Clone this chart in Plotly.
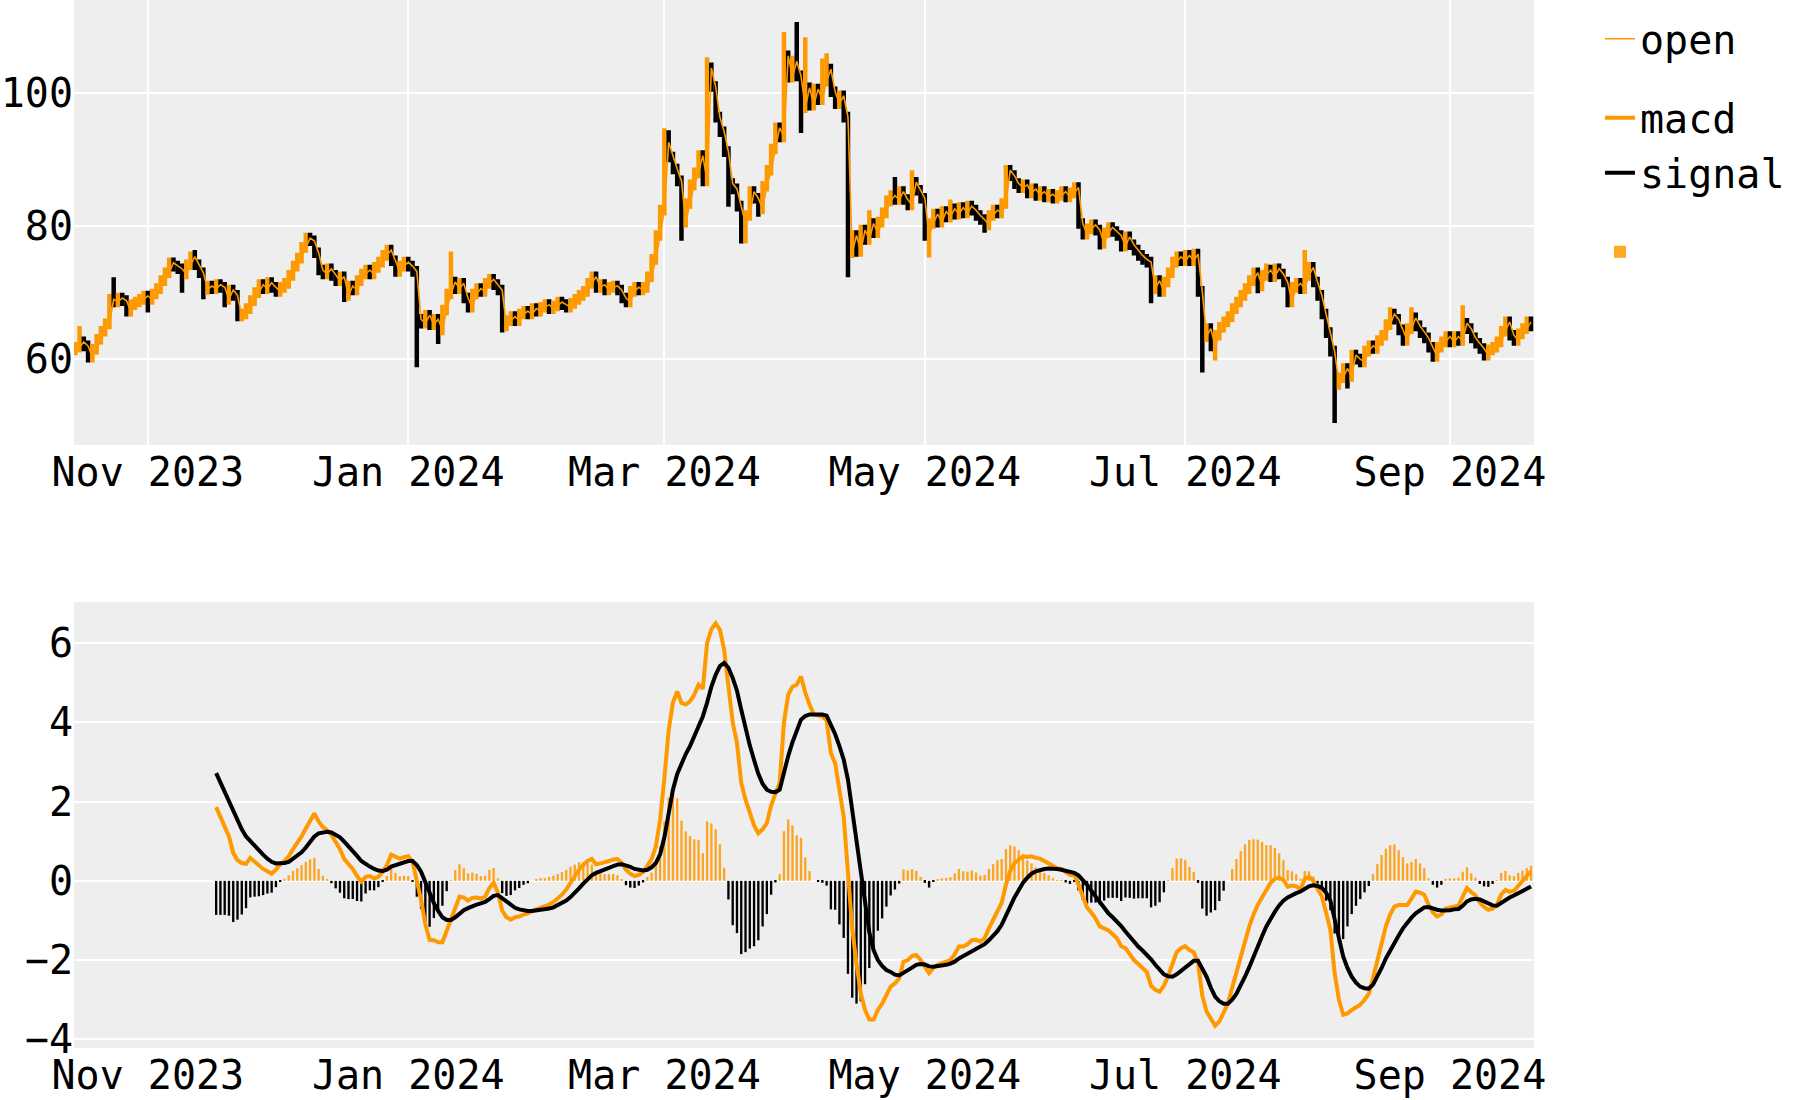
import pandas as pd
import plotly.graph_objects as go

ORANGE = "#ff9900"

# ---------------- price data (daily, 2023-10-15 .. 2024-09-20) ----------------
close_oct = [61.8, 62.6, 62.0, 60.3, 61.5, 63.0, 64.2, 65.3, 69.0, 68.6, 69.2, 68.8, 67.2, 68.2, 68.6, 69.0, 69.5]
close_nov = [69.0, 69.8, 70.6, 71.8, 73.0, 74.5, 74.0, 73.6, 72.8, 74.2, 75.4, 74.2, 73.0, 70.5, 71.0, 70.6, 71.2, 70.8,
             69.0, 70.4, 69.6, 66.5, 66.8, 67.6, 68.8, 70.0, 71.2, 70.6, 71.5, 70.8]
close_dec = [70.2, 70.8, 71.4, 72.6, 74.0, 75.2, 76.8, 78.2, 77.8, 76.0, 73.4, 72.8, 73.6, 72.6, 71.8, 72.4, 69.6, 71.0,
             70.4, 71.8, 72.8, 73.4, 72.8, 73.8, 74.6, 75.6, 76.4, 74.8, 73.2, 74.0, 74.6]
close_jan = [74.0, 73.2, 66.0, 65.4, 66.6, 65.2, 66.0, 64.4, 67.4, 69.8, 71.6, 70.6, 71.4, 69.2, 67.8, 69.8, 70.6, 70.2,
             71.4, 72.0, 71.2, 70.4, 65.0, 65.8, 66.4, 65.8, 66.8, 67.2, 66.8, 67.6, 67.2]
close_feb = [67.8, 68.2, 67.6, 68.0, 68.6, 68.2, 67.8, 68.4, 69.0, 69.6, 70.2, 71.4, 72.4, 70.8, 71.2, 70.4, 70.8, 71.0,
             70.4, 69.2, 68.6, 70.2, 70.8, 70.4, 70.8, 72.4, 75.0, 78.6, 82.4]
close_mar = [92.6, 90.4, 88.6, 86.8, 80.6, 83.4, 86.2, 88.0, 90.6, 86.8, 103.8, 101.0, 96.4, 94.2, 91.2, 86.4, 85.6, 83.0,
             80.4, 81.6, 85.2, 84.2, 82.6, 86.0, 88.4, 91.6, 94.8, 93.4, 105.6, 102.4, 104.8]
close_apr = [102.6, 97.8, 100.8, 98.2, 100.6, 99.0, 101.8, 103.6, 100.2, 98.4, 99.6, 96.4, 76.0, 78.6, 76.2, 79.4, 78.0,
             80.4, 79.0, 80.6, 82.0, 83.8, 84.6, 84.0, 85.2, 84.0, 83.2, 86.6, 85.4, 84.2]
close_may = [78.6, 80.4, 81.8, 80.6, 82.2, 81.4, 82.6, 81.8, 82.8, 82.0, 83.0, 82.4, 81.6, 81.0, 80.2, 81.6, 82.4, 82.0,
             83.4, 88.4, 87.6, 86.4, 85.8, 86.2, 85.0, 85.6, 84.6, 85.2, 84.4, 84.8, 84.2]
close_jun = [84.6, 85.2, 84.4, 85.0, 85.8, 80.4, 78.8, 79.6, 80.2, 79.4, 77.4, 79.0, 79.8, 79.2, 78.6, 77.0, 78.4, 77.2,
             76.4, 75.6, 75.0, 74.6, 70.6, 71.8, 70.2, 71.6, 73.0, 74.6, 75.4, 74.8]
close_jul = [75.6, 74.8, 75.8, 70.2, 63.4, 64.6, 62.0, 63.6, 64.8, 65.6, 66.4, 67.6, 68.6, 69.6, 70.6, 71.8, 73.0, 71.0,
             72.6, 73.4, 72.4, 73.6, 72.8, 71.6, 68.6, 70.8, 71.4, 70.6, 72.6, 73.8, 71.6]
close_aug = [69.6, 66.8, 64.0, 61.2, 56.4, 57.2, 58.6, 57.4, 60.6, 60.0, 59.6, 61.2, 62.0, 61.6, 62.8, 63.6, 65.2, 66.8,
             66.0, 64.4, 62.8, 64.6, 66.2, 65.0, 64.0, 63.2, 61.8, 60.4, 61.8, 62.6, 63.4]
close_sep = [62.6, 63.4, 62.8, 65.4, 64.6, 63.2, 62.4, 61.6, 60.6, 61.4, 61.8, 62.6, 64.2, 65.6, 63.6, 62.8, 63.8, 64.6,
             65.6, 65.0]

close = (close_oct + close_nov + close_dec + close_jan + close_feb + close_mar + close_apr + close_may
         + close_jun + close_jul + close_aug + close_sep)
first_open = 61.4
open_ = [first_open] + close[:-1]

# typical daily wick beyond the open/close body
typical_wick = 0.8
wick_high = {
    "2023-10-16": 65.0, "2023-10-24": 72.3, "2023-11-12": 76.4, "2023-12-09": 78.8, "2023-12-27": 77.2,
    "2024-01-11": 76.2, "2024-02-13": 72.8, "2024-03-01": 94.7, "2024-03-02": 94.4, "2024-03-11": 105.4,
    "2024-03-12": 104.2, "2024-03-29": 109.2, "2024-04-01": 110.7, "2024-04-03": 108.4, "2024-04-07": 105.2,
    "2024-04-08": 106.0, "2024-04-18": 82.4, "2024-04-24": 87.4, "2024-04-28": 88.4, "2024-05-07": 84.0,
    "2024-05-20": 89.2, "2024-06-05": 86.4, "2024-07-20": 74.4, "2024-07-29": 76.4, "2024-07-30": 74.6,
    "2024-08-18": 67.8, "2024-08-23": 67.8, "2024-09-04": 68.1, "2024-09-14": 66.2,
}
wick_low = {
    "2023-10-18": 60.0, "2023-10-27": 66.4, "2023-11-01": 67.0, "2023-11-09": 70.0, "2023-11-14": 69.0,
    "2023-11-19": 67.8, "2023-11-22": 65.9, "2023-12-17": 68.6, "2023-12-29": 72.4, "2024-01-03": 58.8,
    "2024-01-08": 62.3, "2024-01-15": 67.0, "2024-01-23": 64.0, "2024-02-21": 68.0, "2024-03-05": 77.8,
    "2024-03-16": 82.9, "2024-03-19": 77.4, "2024-03-20": 77.4, "2024-03-23": 81.4, "2024-04-02": 94.0,
    "2024-04-13": 72.3, "2024-05-01": 77.9, "2024-05-02": 75.3, "2024-05-15": 79.0, "2024-06-07": 78.0,
    "2024-06-11": 76.5, "2024-06-16": 76.4, "2024-06-23": 68.4, "2024-07-05": 58.0, "2024-07-08": 59.8,
    "2024-07-18": 69.9, "2024-07-25": 67.8, "2024-08-05": 50.4, "2024-08-06": 55.4, "2024-08-08": 55.6,
    "2024-08-21": 62.4, "2024-08-28": 59.9, "2024-09-09": 59.9, "2024-09-16": 62.4,
}

dates = pd.date_range("2023-10-15", periods=len(close), freq="D")
high, low = [], []
for d, o, c in zip(dates, open_, close):
    k = d.strftime("%Y-%m-%d")
    high.append(max(max(o, c) + typical_wick, wick_high.get(k, 0)))
    low.append(min(min(o, c) - typical_wick, wick_low.get(k, 1e9)))

# ---------------- MACD data (daily, 2023-11-17 .. 2024-09-20) ----------------
macd_nov = [1.86, 1.62, 1.38, 1.12, 0.70, 0.52, 0.45, 0.43, 0.58, 0.48, 0.39, 0.30, 0.24, 0.18]
macd_dec = [0.28, 0.42, 0.50, 0.62, 0.80, 0.95, 1.12, 1.32, 1.52, 1.70, 1.50, 1.36, 1.28, 1.16, 0.98, 0.80, 0.55, 0.42,
            0.30, 0.12, -0.02, 0.10, 0.12, 0.06, 0.10, 0.22, 0.40, 0.66, 0.60, 0.56, 0.60]
macd_jan = [0.62, 0.48, 0.00, -0.48, -1.10, -1.49, -1.50, -1.55, -1.55, -1.25, -0.98, -0.65, -0.40, -0.42, -0.50,
            -0.43, -0.42, -0.45, -0.40, -0.18, -0.05, -0.30, -0.75, -0.92, -0.98, -0.92, -0.90, -0.85, -0.82, -0.76,
            -0.72]
macd_feb = [-0.67, -0.65, -0.60, -0.54, -0.45, -0.35, -0.22, -0.05, 0.10, 0.28, 0.40, 0.50, 0.55, 0.42, 0.44, 0.46,
            0.50, 0.54, 0.55, 0.45, 0.28, 0.18, 0.12, 0.15, 0.22, 0.38, 0.55, 0.87, 1.55]
macd_mar = [2.60, 3.80, 4.50, 4.78, 4.49, 4.45, 4.53, 4.70, 4.95, 4.85, 6.00, 6.35, 6.50, 6.34, 5.83, 4.91, 4.00, 3.48,
            2.47, 2.05, 1.71, 1.40, 1.20, 1.30, 1.46, 1.90, 2.20, 2.47, 4.00, 4.70, 4.90]
macd_apr = [4.95, 5.16, 4.75, 4.45, 4.20, 4.18, 4.15, 4.05, 3.23, 2.97, 2.30, 1.62, 0.20, -1.20, -2.10, -2.84, -3.26,
            -3.50, -3.50, -3.26, -3.10, -2.90, -2.67, -2.59, -2.46, -2.04, -2.00, -1.90, -1.87, -2.00]
macd_may = [-2.16, -2.33, -2.20, -2.12, -2.08, -2.05, -2.00, -1.85, -1.66, -1.66, -1.60, -1.50, -1.49, -1.53, -1.45,
            -1.20, -0.98, -0.75, -0.56, -0.10, 0.25, 0.45, 0.55, 0.62, 0.60, 0.62, 0.58, 0.56, 0.50, 0.45, 0.38]
macd_jun = [0.32, 0.30, 0.22, 0.15, 0.18, -0.10, -0.45, -0.67, -0.80, -0.95, -1.15, -1.20, -1.25, -1.35, -1.45, -1.65,
            -1.70, -1.85, -2.00, -2.10, -2.20, -2.30, -2.65, -2.75, -2.80, -2.65, -2.40, -2.10, -1.80, -1.70]
macd_jul = [-1.65, -1.75, -1.80, -2.07, -2.90, -3.30, -3.50, -3.66, -3.55, -3.35, -3.10, -2.70, -2.30, -1.90, -1.50,
            -1.15, -0.85, -0.60, -0.42, -0.25, -0.05, 0.05, 0.08, 0.02, -0.15, -0.12, -0.14, -0.22, 0.05, 0.10, 0.00]
macd_aug = [-0.20, -0.39, -0.80, -1.24, -2.33, -3.00, -3.38, -3.35, -3.26, -3.20, -3.13, -3.00, -2.85, -2.45, -2.00,
            -1.55, -1.15, -0.85, -0.65, -0.61, -0.60, -0.61, -0.45, -0.27, -0.30, -0.35, -0.60, -0.80, -0.90, -0.85,
            -0.70]
macd_sep = [-0.68, -0.66, -0.63, -0.40, -0.18, -0.28, -0.37, -0.55, -0.66, -0.73, -0.70, -0.61, -0.35, -0.23, -0.28,
            -0.25, -0.12, 0.00, 0.12, 0.24]

signal_nov = [2.72, 2.48, 2.24, 2.00, 1.74, 1.50, 1.30, 1.12, 1.00, 0.88, 0.78, 0.66, 0.56, 0.48]
signal_dec = [0.44, 0.44, 0.45, 0.48, 0.55, 0.63, 0.72, 0.84, 0.98, 1.12, 1.20, 1.23, 1.24, 1.22, 1.17, 1.10, 0.99,
              0.88, 0.76, 0.63, 0.50, 0.42, 0.36, 0.30, 0.26, 0.25, 0.28, 0.36, 0.40, 0.44, 0.47]
signal_jan = [0.50, 0.50, 0.40, 0.23, -0.04, -0.33, -0.56, -0.76, -0.92, -0.99, -0.99, -0.92, -0.82, -0.74, -0.69,
              -0.64, -0.60, -0.57, -0.53, -0.46, -0.38, -0.36, -0.44, -0.54, -0.62, -0.68, -0.72, -0.75, -0.76, -0.76,
              -0.75]
signal_feb = [-0.74, -0.72, -0.70, -0.67, -0.62, -0.57, -0.50, -0.41, -0.31, -0.19, -0.07, 0.04, 0.14, 0.20, 0.25,
              0.29, 0.33, 0.37, 0.41, 0.42, 0.39, 0.35, 0.30, 0.27, 0.26, 0.28, 0.34, 0.45, 0.67]
signal_mar = [1.10, 1.70, 2.30, 2.70, 2.97, 3.20, 3.40, 3.65, 3.92, 4.15, 4.50, 4.90, 5.20, 5.42, 5.50, 5.38, 5.12,
              4.80, 4.32, 3.85, 3.42, 3.05, 2.70, 2.45, 2.30, 2.25, 2.24, 2.30, 2.75, 3.15, 3.50]
signal_apr = [3.80, 4.07, 4.16, 4.20, 4.20, 4.20, 4.20, 4.17, 3.95, 3.70, 3.40, 3.06, 2.55, 1.75, 1.00, 0.20, -0.65,
              -1.30, -1.75, -2.00, -2.15, -2.25, -2.30, -2.37, -2.39, -2.33, -2.26, -2.19, -2.12, -2.10]
signal_may = [-2.11, -2.16, -2.17, -2.16, -2.14, -2.12, -2.09, -2.04, -1.96, -1.90, -1.83, -1.76, -1.70, -1.66, -1.60,
              -1.50, -1.40, -1.27, -1.11, -0.90, -0.65, -0.42, -0.22, -0.05, 0.08, 0.18, 0.24, 0.28, 0.30, 0.31, 0.31]
signal_jun = [0.30, 0.28, 0.26, 0.23, 0.20, 0.14, 0.03, -0.10, -0.25, -0.40, -0.55, -0.70, -0.82, -0.92, -1.02, -1.14,
              -1.28, -1.42, -1.55, -1.66, -1.76, -1.86, -1.98, -2.12, -2.26, -2.36, -2.41, -2.42, -2.36, -2.27]
signal_jul = [-2.18, -2.10, -2.02, -2.02, -2.20, -2.42, -2.70, -2.92, -3.04, -3.10, -3.10, -3.00, -2.85, -2.65, -2.42,
              -2.18, -1.90, -1.64, -1.40, -1.15, -0.95, -0.78, -0.62, -0.50, -0.42, -0.36, -0.31, -0.27, -0.20, -0.14,
              -0.11]
signal_aug = [-0.13, -0.18, -0.30, -0.50, -1.00, -1.45, -1.91, -2.20, -2.42, -2.57, -2.67, -2.71, -2.72, -2.62, -2.42,
              -2.20, -1.96, -1.75, -1.57, -1.38, -1.20, -1.05, -0.93, -0.82, -0.74, -0.67, -0.66, -0.70, -0.73, -0.75,
              -0.75]
signal_sep = [-0.74, -0.72, -0.71, -0.63, -0.52, -0.47, -0.45, -0.47, -0.52, -0.58, -0.62, -0.63, -0.55, -0.48, -0.42,
              -0.37, -0.32, -0.26, -0.20, -0.14]

hist_nov = [-0.86, -0.86, -0.86, -0.88, -1.04, -0.98, -0.85, -0.69, -0.42, -0.40, -0.39, -0.36, -0.32, -0.30]
hist_dec = [-0.16, -0.02, 0.05, 0.14, 0.25, 0.32, 0.40, 0.48, 0.54, 0.58, 0.30, 0.13, 0.04, -0.06, -0.19, -0.30, -0.44,
            -0.46, -0.46, -0.51, -0.52, -0.32, -0.24, -0.24, -0.16, -0.03, 0.12, 0.30, 0.20, 0.12, 0.13]
hist_jan = [0.12, -0.02, -0.40, -0.71, -1.06, -1.16, -0.94, -0.79, -0.63, -0.26, 0.01, 0.27, 0.42, 0.32, 0.19, 0.21,
            0.18, 0.12, 0.13, 0.28, 0.33, 0.06, -0.31, -0.38, -0.36, -0.24, -0.18, -0.10, -0.06, 0.00, 0.03]
hist_feb = [0.07, 0.07, 0.10, 0.13, 0.17, 0.22, 0.28, 0.36, 0.41, 0.47, 0.47, 0.46, 0.41, 0.22, 0.19, 0.17, 0.17, 0.17,
            0.14, 0.03, -0.11, -0.17, -0.18, -0.12, -0.04, 0.10, 0.21, 0.42, 0.88]
hist_mar = [1.50, 2.10, 2.20, 2.08, 1.52, 1.25, 1.13, 1.05, 1.03, 0.70, 1.50, 1.45, 1.30, 0.92, 0.33, -0.47, -1.12,
            -1.32, -1.85, -1.80, -1.71, -1.65, -1.50, -1.15, -0.84, -0.35, -0.04, 0.17, 1.25, 1.55, 1.40]
hist_apr = [1.15, 1.09, 0.59, 0.25, 0.00, -0.02, -0.05, -0.12, -0.72, -0.73, -1.10, -1.44, -2.35, -2.95, -3.10, -3.04,
            -2.61, -2.20, -1.75, -1.26, -0.95, -0.65, -0.37, -0.22, -0.07, 0.29, 0.26, 0.29, 0.25, 0.10]
hist_may = [-0.05, -0.17, -0.03, 0.04, 0.06, 0.07, 0.09, 0.19, 0.30, 0.24, 0.23, 0.26, 0.21, 0.13, 0.15, 0.30, 0.42,
            0.52, 0.55, 0.80, 0.90, 0.87, 0.77, 0.67, 0.52, 0.44, 0.34, 0.28, 0.20, 0.14, 0.07]
hist_jun = [0.02, 0.02, -0.04, -0.08, -0.02, -0.24, -0.48, -0.57, -0.55, -0.55, -0.60, -0.50, -0.43, -0.43, -0.43,
            -0.51, -0.42, -0.43, -0.45, -0.44, -0.44, -0.44, -0.67, -0.63, -0.54, -0.29, 0.01, 0.32, 0.56, 0.57]
hist_jul = [0.53, 0.35, 0.22, -0.05, -0.70, -0.88, -0.80, -0.74, -0.51, -0.25, 0.00, 0.30, 0.55, 0.75, 0.92, 1.03,
            1.05, 1.04, 0.98, 0.90, 0.90, 0.83, 0.70, 0.52, 0.27, 0.24, 0.17, 0.05, 0.25, 0.24, 0.11]
hist_aug = [-0.07, -0.21, -0.50, -0.74, -1.33, -1.55, -1.47, -1.15, -0.84, -0.63, -0.46, -0.29, -0.13, 0.17, 0.42,
            0.65, 0.81, 0.90, 0.92, 0.77, 0.60, 0.44, 0.48, 0.55, 0.44, 0.32, 0.06, -0.10, -0.17, -0.10, 0.05]
hist_sep = [0.06, 0.06, 0.08, 0.23, 0.34, 0.19, 0.08, -0.08, -0.14, -0.15, -0.08, 0.02, 0.20, 0.25, 0.14, 0.12, 0.20,
            0.26, 0.32, 0.38]

macd = (macd_nov + macd_dec + macd_jan + macd_feb + macd_mar + macd_apr + macd_may + macd_jun + macd_jul
        + macd_aug + macd_sep)
signal = (signal_nov + signal_dec + signal_jan + signal_feb + signal_mar + signal_apr + signal_may + signal_jun
          + signal_jul + signal_aug + signal_sep)
hist = (hist_nov + hist_dec + hist_jan + hist_feb + hist_mar + hist_apr + hist_may + hist_jun + hist_jul
        + hist_aug + hist_sep)
mdates = pd.date_range("2023-11-17", periods=len(macd), freq="D")
hist_pos = [h if h >= 0 else None for h in hist]
hist_neg = [h if h < 0 else None for h in hist]

# ---------------- figure ----------------
FONT = "DejaVu Sans Mono"
FS = 40

fig = go.Figure()
fig.add_trace(go.Ohlc(
    x=dates, open=open_, high=high, low=low, close=close,
    increasing=dict(line=dict(color=ORANGE, width=4.5)),
    decreasing=dict(line=dict(color="black", width=4.5)),
    tickwidth=0.05, showlegend=False, xaxis="x", yaxis="y", hoverinfo="skip"))
fig.add_trace(go.Scatter(x=dates, y=open_, mode="lines", name="open", legendgroup="a",
                         line=dict(color=ORANGE, width=1.6), xaxis="x", yaxis="y"))
fig.add_trace(go.Scatter(x=mdates, y=macd, mode="lines", name="macd", legendgroup="b",
                         line=dict(color=ORANGE, width=4), xaxis="x2", yaxis="y2"))
fig.add_trace(go.Scatter(x=mdates, y=signal, mode="lines", name="signal", legendgroup="b",
                         line=dict(color="black", width=4), xaxis="x2", yaxis="y2"))
bar_w = 0.55 * 86400000
fig.add_trace(go.Bar(x=mdates, y=hist_pos, name="", legendgroup="c", width=bar_w,
                     marker=dict(color=ORANGE, line=dict(width=0)), opacity=0.85, xaxis="x2", yaxis="y2"))
fig.add_trace(go.Bar(x=mdates, y=hist_neg, name="", legendgroup="c", width=bar_w, showlegend=False,
                     marker=dict(color="black", line=dict(width=0)), xaxis="x2", yaxis="y2"))

xrange = ["2023-10-14 16:48", "2024-09-20 16:48"]
axis_common = dict(showline=False, ticks="", automargin=False, color="black")
fig.update_layout(
    template="none",
    width=1800, height=1100,
    margin=dict(l=74, r=266, t=0, b=52),
    paper_bgcolor="white", plot_bgcolor="#eeeeee",
    font=dict(family=FONT, size=FS, color="black"),
    barmode="overlay",
    showlegend=True,
    legend=dict(x=1.0452, xanchor="left", y=0.994, yanchor="top", traceorder="grouped",
                tracegroupgap=24, bgcolor="rgba(0,0,0,0)", borderwidth=0,
                font=dict(family=FONT, size=FS, color="black")),
    xaxis=dict(domain=[0, 1], anchor="y", type="date", range=xrange, tickformat="%b %Y", dtick="M2",
               tick0="2023-11-01", showgrid=True, gridcolor="white", gridwidth=2, zeroline=False,
               rangeslider=dict(visible=False), **axis_common),
    yaxis=dict(domain=[0.5754, 1], anchor="x", range=[47.1, 114], tickvals=[60, 80, 100],
               showgrid=True, gridcolor="white", gridwidth=2, zeroline=False, **axis_common),
    xaxis2=dict(domain=[0, 1], anchor="y2", type="date", range=xrange, tickformat="%b %Y", dtick="M2",
                tick0="2023-11-01", showgrid=False, zeroline=False, **axis_common),
    yaxis2=dict(domain=[0, 0.4256], anchor="x2", range=[-4.22, 7.04], dtick=2, tick0=0,
                showgrid=True, gridcolor="white", gridwidth=2, zeroline=True, zerolinecolor="white",
                zerolinewidth=2, **axis_common),
    hovermode=False,
)

fig.write_html("out.html")
